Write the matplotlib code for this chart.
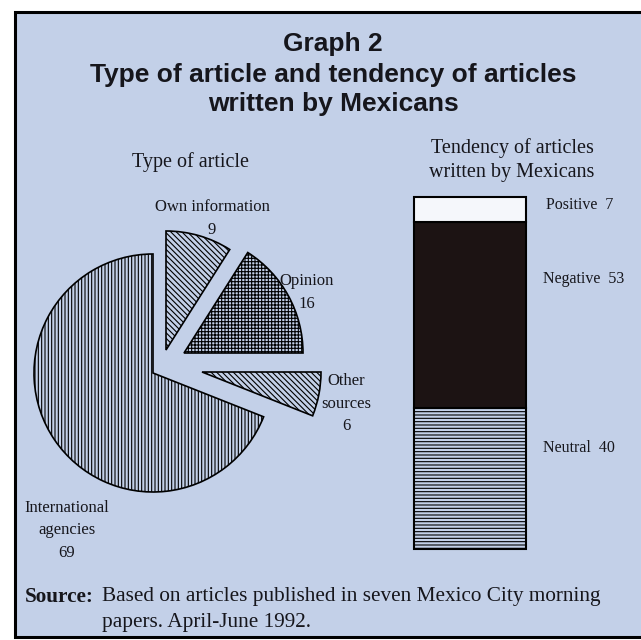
import matplotlib
matplotlib.use("Agg")
import matplotlib.pyplot as plt
from matplotlib.patches import Rectangle

# pie data (drawn counter-clockwise from the top)
pie_labels = ["International\nagencies", "Other\nsources", "Opinion", "Own information"]
pie_values = [69, 6, 16, 9]
pie_hatch = ["|||||", "\\\\\\\\\\\\", "+++++", "\\\\\\\\\\\\"]

# stacked bar data (bottom to top)
bar_labels = ["Neutral", "Negative", "Positive"]
bar_values = [40, 53, 7]
bar_colors = ["#c3d0e8", "#1c1313", "#f5f7fb"]
bar_hatch = ["-----", None, None]

bg = "#c3d0e8"
ink = "#16161c"
W, H = 641, 640

plt.rcParams["hatch.linewidth"] = 0.8

fig = plt.figure(figsize=(W / 100, H / 100), dpi=100)
fig.patch.set_facecolor("white")


def fx(x):
    return x / W


def fy(y):
    return 1 - y / H


# panel box
fig.patches.append(Rectangle((fx(15), fy(637)), fx(700) - fx(15), fy(12) - fy(637),
                             transform=fig.transFigure, facecolor=bg,
                             edgecolor="black", linewidth=2.2, zorder=-10))

# titles
for txt, y in [("Graph 2", 44), ("Type of article and tendency of articles", 75),
               ("written by Mexicans", 104)]:
    fig.text(fx(333), fy(y), txt, ha="center", va="center", fontsize=19,
             fontweight="bold", family="Liberation Sans", color=ink)

serif = "Liberation Serif"
fig.text(fx(191), fy(162), "Type of article", ha="center", va="center",
         fontsize=14.5, family=serif, color=ink)
fig.text(fx(512), fy(148), "Tendency of articles", ha="center", va="center",
         fontsize=14.5, family=serif, color=ink)
fig.text(fx(512), fy(173), "written by Mexicans", ha="center", va="center",
         fontsize=14.5, family=serif, color=ink)

# pie
cx, cy, r = 153, 373, 119
ax = fig.add_axes([fx(cx - 150), fy(cy + 150), 300 / W, 300 / H])
wedges, _ = ax.pie(pie_values, startangle=90, counterclock=True,
                   colors=[bg] * len(pie_values), hatch=pie_hatch, radius=1,
                   wedgeprops=dict(edgecolor="black", linewidth=1.2))
# pulled-out slices, shift in pixels (right, up)
pie_shift = [(0, 0), (49, 1), (31, 20), (13, 23)]
for w, (dx, dy) in zip(wedges, pie_shift):
    w.set_center((dx / r, dy / r))
ax.set_xlim(-150 / r, 150 / r)
ax.set_ylim(-150 / r, 150 / r)
ax.set_aspect("equal")
ax.axis("off")

pie_text_pos = {"Own information": (212, 207), "Opinion": (307, 281),
                "Other\nsources": (346, 381), "International\nagencies": (67, 508)}
for lab, val in zip(pie_labels, pie_values):
    x, y = pie_text_pos[lab]
    lines = lab.split("\n") + [str(val)]
    for i, s in enumerate(lines):
        fig.text(fx(x), fy(y + i * 22.5), s, ha="center", va="center",
                 fontsize=12, family=serif, color=ink)

# stacked bar
bx = fig.add_axes([fx(414), fy(549), 112 / W, 352 / H])
bottom = 0
for lab, val, col, hat in zip(bar_labels, bar_values, bar_colors, bar_hatch):
    bx.bar(0, val, bottom=bottom, width=1, color=col, hatch=hat,
           edgecolor="black", linewidth=1.5, clip_on=False)
    bottom += val
bx.set_xlim(-0.5, 0.5)
bx.set_ylim(0, sum(bar_values))
bx.axis("off")

bar_text_pos = {"Positive": (546, 205), "Negative": (543, 279), "Neutral": (543, 448)}
for lab, val in zip(bar_labels, bar_values):
    x, y = bar_text_pos[lab]
    fig.text(fx(x), fy(y), f"{lab}  {val}", ha="left", va="center",
             fontsize=11.5, family=serif, color=ink)

# source note
fig.text(fx(25), fy(597), "Source:", ha="left", va="center", fontsize=15.3,
         fontweight="bold", family=serif, color=ink)
fig.text(fx(102), fy(597), "Based on articles published in seven Mexico City morning",
         ha="left", va="center", fontsize=15.3, family=serif, color=ink)
fig.text(fx(102), fy(623), "papers. April-June 1992.", ha="left", va="center",
         fontsize=15.3, family=serif, color=ink)

fig.savefig("out.png", dpi=100, facecolor=fig.get_facecolor())
